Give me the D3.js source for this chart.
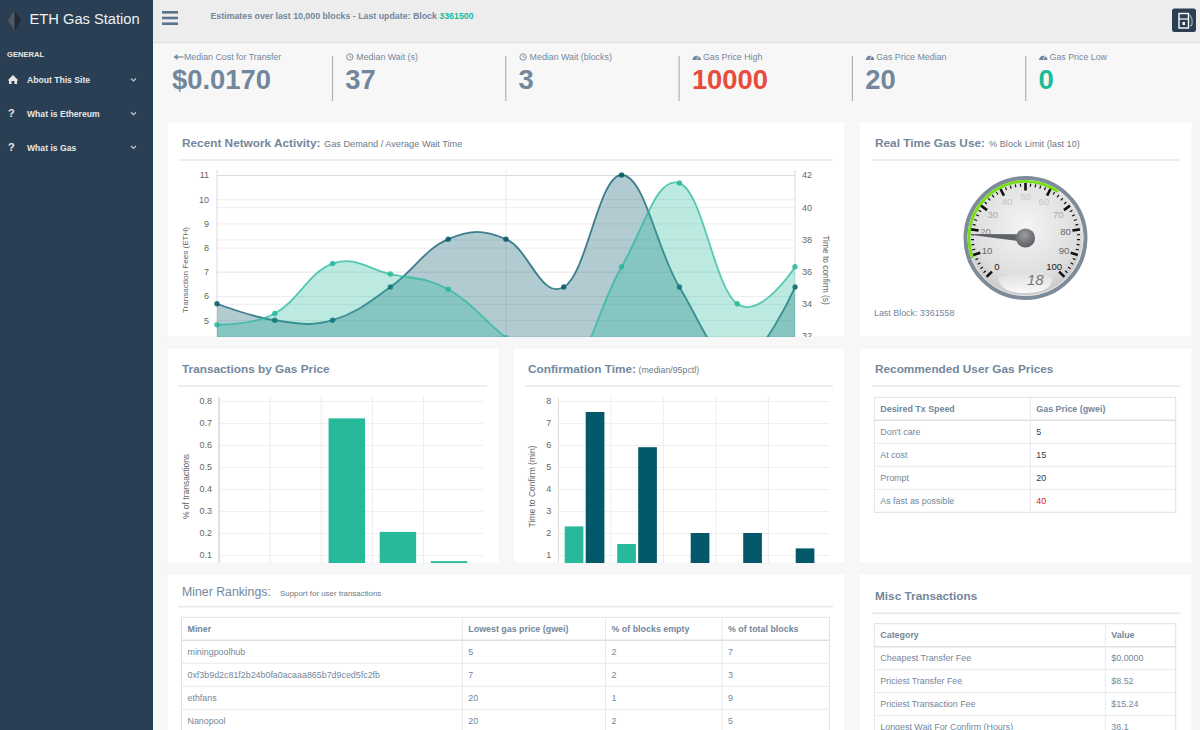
<!DOCTYPE html>
<html><head><meta charset="utf-8">
<script src="https://cdn.jsdelivr.net/npm/d3@7"></script>
<style>
html,body{margin:0;padding:0;background:#F7F7F7;overflow:hidden}
svg{display:block;font-family:"Liberation Sans",Arial,sans-serif}
.axis path{display:none}
</style></head><body><svg id="page" width="1200" height="730"></svg>
<script>
// ---------- data ----------
const activityLabels = ["t1","t2","t3","t4","t5","t6","t7","t8","t9","t10","t11"];
const transactionFees = [5.68,5,5,6.37,8.35,8.35,6.37,11,6.37,3.2,6.37];
const timeToConfirm = [32.7,33.4,36.5,35.85,34.9,31.9,29.2,36.3,41.5,34,36.3];
const leftTicks = [5,6,7,8,9,10,11];
const rightTicks = [32,34,36,38,40,42];
const priceBins = ["<5","5-15","15-25","25-40",">40"];
const priceShare = [0,0,0.721,0.205,0.072];
const shareTicks = [0.1,0.2,0.3,0.4,0.5,0.6,0.7,0.8];
const confirmMedian = [2.3,1.5,0,0,0];
const confirm95 = [7.5,5.9,2,2,1.3];
const minuteTicks = [1,2,3,4,5,6,7,8];
const gaugeLabels = [0,10,20,30,40,50,60,70,80,90,100];
const gaugeLabelColors = ["#222","#666","#888","#aaa","#c4c4c4","#c8c8c8","#c4c4c4","#aaa","#666","#666","#222"];
const gaugeValue = 18;
const statNames = ["Median Cost for Transfer","Median Wait (s)","Median Wait (blocks)","Gas Price High","Gas Price Median","Gas Price Low"];
const statValues = ["$0.0170","37","3","10000","20","0"];
const statIcons = ["arrow","clock","clock","gauge","gauge","gauge"];
const statColors = ["#73879C","#73879C","#73879C","#E74C3C","#73879C","#1ABB9C"];
const menuItems = ["About This Site","What is Ethereum","What is Gas"];
const speedHeader = ["Desired Tx Speed","Gas Price (gwei)"];
const speedRows = [["Don't care","5"],["At cost","15"],["Prompt","20"],["As fast as possible","40"]];
const miscHeader = ["Category","Value"];
const miscRows = [["Cheapest Transfer Fee","$0.0000"],["Priciest Transfer Fee","$8.52"],["Priciest Transaction Fee","$15.24"],["Longest Wait For Confirm (Hours)","36.1"]];
const minerHeader = ["Miner","Lowest gas price (gwei)","% of blocks empty","% of total blocks"];
const minerRows = [["miningpoolhub","5","2","7"],["0xf3b9d2c81f2b24b0fa0acaaa865b7d9ced5fc2fb","7","2","3"],["ethfans","20","1","9"],["Nanopool","20","2","5"]];

// ---------- helpers ----------
const TXT="#73879C", SIDE="#2A3F54", GREEN="#26B99A", DARK="#03586A";
const svg=d3.select("#page");
const defs=svg.append("defs");
let clipId=0;
function clip(x,y,w,h){const id="c"+(++clipId);defs.append("clipPath").attr("id",id).append("rect").attr("x",x).attr("y",y).attr("width",w).attr("height",h);return `url(#${id})`;}
function text(g,x,y,s,size,fill,opt={}){return g.append("text").attr("x",x).attr("y",y).attr("font-size",size).attr("fill",fill).attr("font-weight",opt.weight||"normal").attr("text-anchor",opt.anchor||"start").attr("dominant-baseline","central").text(s);}
function card(x,y,w,h,title,sub,ux0,ux1,uy,tx,opt={}){
  svg.append("rect").attr("x",x).attr("y",y).attr("width",w).attr("height",h).attr("fill","#fff").attr("stroke","#EEF0F3").attr("stroke-width",.6);
  svg.append("line").attr("x1",ux0).attr("x2",ux1).attr("y1",uy).attr("y2",uy).attr("stroke","#E6E9ED").attr("stroke-width",1.4);
  const t=text(svg,tx,uy-(opt.dy||17),title,opt.size||11.8,TXT,{weight:opt.weight||"bold"});
  if(sub) text(svg,opt.subx,uy-(opt.subdy||16),sub,opt.subsize||9.2,"#6b7a88");
  return t;
}
function table(x0,x1,y0,rowH,colXs,header,rows,bottom,valueFill){
  const g=svg.append("g").attr("clip-path",clip(x0-1,y0-1,x1-x0+2,bottom-y0+1));
  const n=rows.length+1;
  g.append("rect").attr("x",x0).attr("y",y0).attr("width",x1-x0).attr("height",rowH*n).attr("fill","none").attr("stroke","#DDE1E5");
  d3.range(1,n).forEach(i=>g.append("line").attr("x1",x0).attr("x2",x1).attr("y1",y0+i*rowH).attr("y2",y0+i*rowH).attr("stroke",i==1?"#DDE1E5":"#E6E9ED").attr("stroke-width",i==1?1.6:1));
  colXs.forEach(c=>g.append("line").attr("x1",c).attr("x2",c).attr("y1",y0).attr("y2",y0+rowH*n).attr("stroke","#E6E9ED"));
  const xs=[x0,...colXs];
  header.forEach((h,j)=>text(g,xs[j]+6,y0+rowH/2,h,8.9,TXT,{weight:"bold"}));
  rows.forEach((r,i)=>r.forEach((c,j)=>text(g,xs[j]+6,y0+rowH*(i+1.5),c,8.9,valueFill?valueFill(i,j):TXT)));
}
function styleAxis(g,grid,size=9){
  g.attr("class","axis");
  g.selectAll(".tick line").attr("stroke",grid).attr("stroke-width",1);
  g.selectAll(".tick text").attr("fill","#666").attr("font-size",size).attr("font-family","'Liberation Sans',sans-serif");
}

// ---------- chrome ----------
svg.append("rect").attr("x",153).attr("y",0).attr("width",1047).attr("height",42.5).attr("fill","#EDEDED");
svg.append("line").attr("x1",153).attr("x2",1200).attr("y1",42.8).attr("y2",42.8).attr("stroke","#D9DEE4");
svg.append("rect").attr("width",153).attr("height",730).attr("fill",SIDE);
// brand diamond
const eth=d3.path();eth.moveTo(14.5,10);eth.lineTo(21,20.5);eth.lineTo(14.5,31);eth.lineTo(8,20.5);eth.closePath();
svg.append("path").attr("d",eth).attr("fill","#1f2a33");
const eth2=d3.path();eth2.moveTo(14.5,10);eth2.lineTo(8,20.5);eth2.lineTo(14.5,31);eth2.closePath();
svg.append("path").attr("d",eth2).attr("fill","#4f5963");
text(svg,29.5,18.5,"ETH Gas Station",14.7,"#ECF0F1");
text(svg,7,54,"GENERAL",7.6,"#E7E7E7",{weight:"bold"});
const menuY=d3.scalePoint().domain(menuItems).range([80,147.5]);
menuItems.forEach((m,i)=>{
  const y=menuY(m);
  if(i==0){
    svg.append("path").attr("d",`M7.5 ${y+.5}L13 ${y-5}L18.5 ${y+.5}L17 ${y+.5}L17 ${y+4}L14.4 ${y+4}L14.4 ${y+1}L11.6 ${y+1}L11.6 ${y+4}L9 ${y+4}L9 ${y+.5}Z`).attr("fill","#E7E7E7");
  } else text(svg,8,y-.5,"?",11,"#E7E7E7",{weight:"bold"});
  text(svg,27,y,m,8.6,"#E7E7E7",{weight:"bold"});
  svg.append("path").attr("d",`M131 ${y-1.5}L133.5 ${y+1}L136 ${y-1.5}`).attr("fill","none").attr("stroke","#C4CDD5").attr("stroke-width",1.1);
});
// hamburger
d3.range(3).forEach(i=>svg.append("rect").attr("x",162).attr("y",11+i*5.7).attr("width",16).attr("height",2.6).attr("fill","#5A738E"));
const head=text(svg,210.5,15.5,"Estimates over last 10,000 blocks - Last update: Block ",8.8,TXT,{weight:"bold"});
head.append("tspan").attr("fill","#1ABB9C").text("3361500");
// pump button
svg.append("rect").attr("x",1172).attr("y",8.5).attr("width",24).attr("height",23.5).attr("rx",2.5).attr("fill",SIDE);
svg.append("rect").attr("x",1179).attr("y",13.5).attr("width",9.5).attr("height",14.5).attr("fill","none").attr("stroke","#fff").attr("stroke-width",1.4);
svg.append("line").attr("x1",1179).attr("x2",1188.5).attr("y1",19).attr("y2",19).attr("stroke","#fff").attr("stroke-width",1.2);
svg.append("rect").attr("x",1182.5).attr("y",22).attr("width",2.5).attr("height",3).attr("fill","#fff");
svg.append("path").attr("d","M1190 15Q1193 18 1192 25Q1191 27 1190 25").attr("fill","none").attr("stroke","#c9d2da").attr("stroke-width",.9);

// ---------- stat tiles ----------
const statX=d3.scalePoint().domain(statNames).range([172.5,1039]);
statNames.forEach((n,i)=>{
  const x=statX(n);
  if(statIcons[i]=="arrow"){
    svg.append("path").attr("d",`M${x+1} 57L${x+5} 54L${x+5} 60Z`).attr("fill",TXT);
    svg.append("line").attr("x1",x+3).attr("x2",x+11).attr("y1",57).attr("y2",57).attr("stroke",TXT).attr("stroke-width",1.2);
    text(svg,x+11.5,57,n,8.85,TXT);
  } else {
    if(statIcons[i]=="clock"){
      svg.append("circle").attr("cx",x+4).attr("cy",57).attr("r",3.2).attr("fill","none").attr("stroke",TXT).attr("stroke-width",.9);
      svg.append("path").attr("d",`M${x+4} 55V57.3H${x+5.8}`).attr("fill","none").attr("stroke",TXT).attr("stroke-width",.7);
    } else {
      svg.append("path").attr("d",`M${x} 60A4.3 4.3 0 1 1 ${x+8.6} 60Z`).attr("fill",TXT);
      svg.append("line").attr("x1",x+4.3).attr("x2",x+6).attr("y1",59.5).attr("y2",56).attr("stroke","#F7F7F7").attr("stroke-width",.8);
    }
    text(svg,x+10.5,57,n,8.85,TXT);
  }
  text(svg,x-.5,79.5,statValues[i],27.4,statColors[i],{weight:"bold"});
  if(i>0) svg.append("line").attr("x1",x-13.3).attr("x2",x-13.3).attr("y1",56).attr("y2",101).attr("stroke","#ADB2B5").attr("stroke-width",1.2);
});

// ---------- network activity ----------
card(167,122,678,215,"Recent Network Activity:","Gas Demand / Average Wait Time",178,833,160,182,{subx:324});
const xA=d3.scalePoint().domain(activityLabels).range([217,795]);
const yFees=d3.scaleLinear().domain([0,11]).range([441.2,175]);
const yTime=d3.scaleLinear().domain([26,42]).range([432.6,175]);
const gA=svg.append("g").attr("clip-path",clip(170,165,670,172));
gA.append("g").attr("transform","translate(217,0)").call(d3.axisLeft(yFees).tickValues(leftTicks).tickSize(-578).tickPadding(8)).call(g=>styleAxis(g,"#EDEDF0"));
gA.append("g").attr("transform","translate(795,0)").call(d3.axisRight(yTime).tickValues(rightTicks).tickSize(-578).tickPadding(7)).call(g=>styleAxis(g,"#EDEDF0"));
gA.selectAll(".tick").filter(d=>d===11||d===42).select("line").attr("stroke","#DADADD");
[activityLabels[0],activityLabels[5],activityLabels[10]].forEach(l=>gA.append("line").attr("x1",xA(l)).attr("x2",xA(l)).attr("y1",170).attr("y2",337).attr("stroke",l==activityLabels[5]?"#EAEAEE":"#D8DADD"));
const cardinal=d3.curveCardinal.tension(-0.2);
function series(vals,y,col){
  const area=d3.area().x((d,i)=>xA(activityLabels[i])).y0(y.range()[0]).y1(d=>y(d)).curve(cardinal);
  const line=d3.line().x((d,i)=>xA(activityLabels[i])).y(d=>y(d)).curve(cardinal);
  gA.append("path").datum(vals).attr("d",area).attr("fill",`rgba(${col},0.31)`);
  gA.append("path").datum(vals).attr("d",line).attr("fill","none").attr("stroke",`rgba(${col},0.72)`).attr("stroke-width",1.8);
  gA.append("g").selectAll("circle").data(vals).join("circle").attr("cx",(d,i)=>xA(activityLabels[i])).attr("cy",d=>y(d)).attr("r",2.7).attr("fill",`rgba(${col},0.85)`);
}
series(transactionFees,yFees,"3,88,106");
series(timeToConfirm,yTime,"38,185,154");
text(gA,0,0,"Transaction Fees (ETH)",8.1,"#666",{anchor:"middle"}).attr("transform","translate(185,270) rotate(-90)");
text(gA,0,0,"Time to confirm (s)",8.4,"#666",{anchor:"middle"}).attr("transform","translate(826,270) rotate(90)");

// ---------- gauge ----------
card(859,122,333,215,"Real Time Gas Use:","% Block Limit (last 10)",872,1180,160,875,{subx:989});
const cx=1025.5, cy=238;
const ang=d3.scaleLinear().domain([0,100]).range([-135,135]);
const face=defs.append("radialGradient").attr("id","face").attr("cx","50%").attr("cy","40%").attr("r","62%");
face.append("stop").attr("offset","0%").attr("stop-color","#f4f4f4");
face.append("stop").attr("offset","70%").attr("stop-color","#dedede");
face.append("stop").attr("offset","100%").attr("stop-color","#c2c2c2");
const hubG=defs.append("radialGradient").attr("id","hub").attr("cx","45%").attr("cy","35%").attr("r","70%");
hubG.append("stop").attr("offset","0%").attr("stop-color","#9a9ca0");
hubG.append("stop").attr("offset","100%").attr("stop-color","#55585c");
const glass=defs.append("linearGradient").attr("id","glass").attr("x1",0).attr("x2",0).attr("y1",0).attr("y2",1);
glass.append("stop").attr("offset","0%").attr("stop-color","#fff").attr("stop-opacity",.15);
glass.append("stop").attr("offset","100%").attr("stop-color","#fff").attr("stop-opacity",.95);
const gG=svg.append("g").attr("transform",`translate(${cx},${cy})`);
gG.append("circle").attr("r",60).attr("fill","url(#face)").attr("stroke","#7E8C9A").attr("stroke-width",4);
gG.append("circle").attr("r",57.6).attr("fill","none").attr("stroke","#e6e6e6").attr("stroke-width",1);
const toRad=v=>ang(v)*Math.PI/180;
gG.append("path").attr("d",d3.arc()({innerRadius:55.2,outerRadius:58,startAngle:toRad(9),endAngle:toRad(63)})).attr("fill","#74E012");
d3.range(0,101,2).forEach(v=>{
  const major=v%10==0;
  const r0=major?47.5:51.5, r1=major?55:54.5;
  gG.append("line").attr("x1",0).attr("x2",0).attr("y1",-r0).attr("y2",-r1).attr("stroke","#111").attr("stroke-width",major?2.6:1.2).attr("transform",`rotate(${ang(v)})`);
});
gaugeLabels.forEach((l,i)=>{
  const a=toRad(l), r=l==50?42:40.5;
  text(gG,r*Math.sin(a),-r*Math.cos(a),l,9.6,gaugeLabelColors[i],{anchor:"middle"});
});
gG.append("path").attr("d","M-3.8 0L3.8 0L.5 -54L-.5 -54Z").attr("fill","#5f6266").attr("transform",`rotate(${ang(gaugeValue)})`);
gG.append("circle").attr("r",9.6).attr("fill","url(#hub)");
gG.append("path").attr("d","M-27 39Q0 34 27 39Q27 55 0 55Q-27 55 -27 39Z").attr("fill","url(#glass)");
text(gG,1.5,41,gaugeValue,15,"#777",{}).attr("font-style","italic");
text(svg,874,312.5,"Last Block: 3361558",8.9,TXT);

// ---------- transactions by gas price ----------
card(167,348,332,215,"Transactions by Gas Price",null,178,487,386,182);
const xP=d3.scaleBand().domain(priceBins).range([219,474.6]).paddingInner(.287).paddingOuter(.1435);
const yP=d3.scaleLinear().domain([0,0.8]).range([577,401]);
const gP=svg.append("g").attr("clip-path",clip(170,392,325,171));
gP.append("g").attr("transform","translate(219,0)").call(d3.axisLeft(yP).tickValues(shareTicks).tickFormat(d3.format(".1f")).tickSize(-263.7).tickPadding(7)).call(g=>styleAxis(g,"#EFEFF2"));
const stepP=xP.step();
priceBins.forEach((b,i)=>gP.append("line").attr("x1",xP(b)-stepP*.1435).attr("x2",xP(b)-stepP*.1435).attr("y1",397).attr("y2",563).attr("stroke",i==0?"#D8DADD":"#EDEDF0").attr("stroke-width",i==0?1.6:1));
gP.selectAll("rect.bar").data(priceShare).join("rect").attr("class","bar").attr("x",(d,i)=>xP(priceBins[i])).attr("width",xP.bandwidth()).attr("y",d=>yP(d)).attr("height",d=>yP(0)-yP(d)).attr("fill",GREEN);
text(gP,0,0,"% of transactions",8.5,"#666",{anchor:"middle"}).attr("transform","translate(185.5,486.5) rotate(-90)");

// ---------- confirmation time ----------
card(513,348,332,215,"Confirmation Time:","(median/95pctl)",525,833,386,528,{subx:638.5,subsize:8.8});
const xC=d3.scaleBand().domain(priceBins).range([558.3,820.8]);
const xS=d3.scaleBand().domain(["median","p95"]).range([0,xC.bandwidth()]).paddingInner(.11).paddingOuter(.305);
const yC=d3.scaleLinear().domain([0,8]).range([577,401]);
const gC=svg.append("g").attr("clip-path",clip(516,392,325,171));
gC.append("g").attr("transform","translate(558.3,0)").call(d3.axisLeft(yC).tickValues(minuteTicks).tickSize(-271).tickPadding(7)).call(g=>styleAxis(g,"#EFEFF2"));
priceBins.forEach((b,i)=>gC.append("line").attr("x1",xC(b)).attr("x2",xC(b)).attr("y1",397).attr("y2",563).attr("stroke",i==0?"#D8DADD":"#EDEDF0"));
gC.selectAll("rect.m").data(confirmMedian).join("rect").attr("class","m").attr("x",(d,i)=>xC(priceBins[i])+xS("median")).attr("width",xS.bandwidth()).attr("y",d=>yC(d)).attr("height",d=>yC(0)-yC(d)).attr("fill",GREEN);
gC.selectAll("rect.p").data(confirm95).join("rect").attr("class","p").attr("x",(d,i)=>xC(priceBins[i])+xS("p95")).attr("width",xS.bandwidth()).attr("y",d=>yC(d)).attr("height",d=>yC(0)-yC(d)).attr("fill",DARK);
text(gC,0,0,"Time to Confirm (min)",8.5,"#666",{anchor:"middle"}).attr("transform","translate(532,486.5) rotate(-90)");

// ---------- tables ----------
card(859,348,333,215,"Recommended User Gas Prices",null,872,1180.5,386,875);
table(874.3,1175.7,397.3,23,[1030.3],speedHeader,speedRows,513,(i,j)=>j==0?TXT:(i==3?"#E0202E":"#1F3F4D"));
card(859,574,333,170,"Misc Transactions",null,872,1180.5,613.3,875);
table(874.3,1175.7,623.7,23,[1105.3],miscHeader,miscRows,730);
card(167,574,678,170,"Miner Rankings:","Support for user transactions",178,833,606.7,182,{weight:"normal",size:12.3,dy:14.5,subx:280,subsize:7.9,subdy:13});
table(181.5,829.4,617.3,23,[462.3,605.5,722],minerHeader,minerRows,730);
</script></body></html>
